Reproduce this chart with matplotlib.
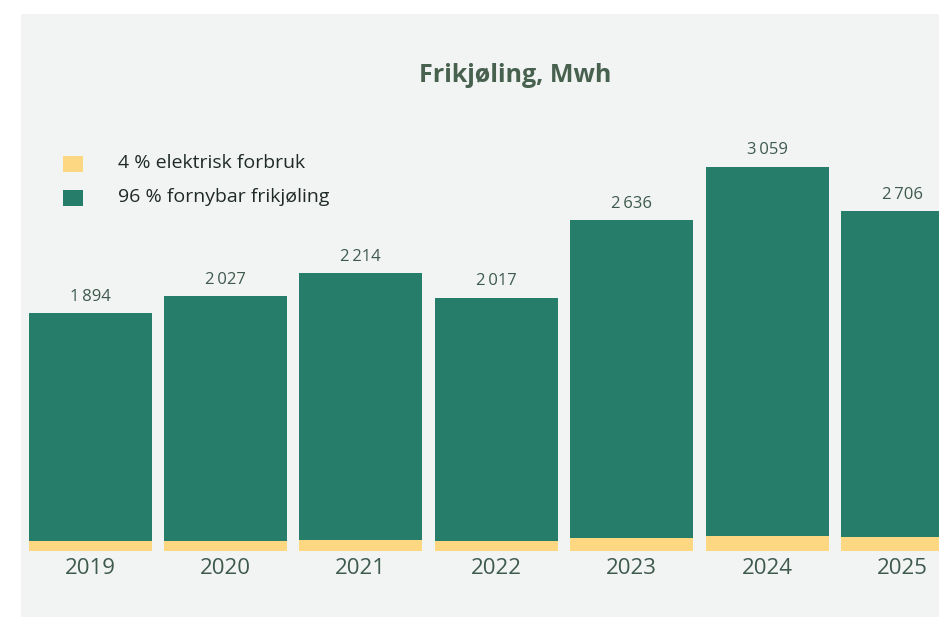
import matplotlib
matplotlib.use("Agg")
import matplotlib.pyplot as plt
from matplotlib.patches import Rectangle

# Data
years = ["2019", "2020", "2021", "2022", "2023", "2024", "2025"]
totals = [1894, 2027, 2214, 2017, 2636, 3059, 2706]
electric_share = 0.04
legend_labels = ["4 % elektrisk forbruk", "96 % fornybar frikjøling"]
title = "Frikjøling, Mwh"

GREEN = "#257d6a"
YELLOW = "#fdd781"
PANEL = "#f2f4f3"
TEXT = "#3e5a4d"

plt.rcParams["font.family"] = ["Open Sans", "DejaVu Sans"]

W, H = 939, 617
fig = plt.figure(figsize=(W / 100, H / 100), dpi=100, facecolor="white")

def fx(px):
    return px / W

def fy(py):
    return 1 - py / H

# Light panel behind the chart
fig.patches.append(Rectangle((fx(21), 0), 1 - fx(21), fy(14), transform=fig.transFigure,
                             facecolor=PANEL, edgecolor="none", zorder=-10))

# Axes geometry: bar pitch 135.4 px, first bar centre at x=90, baseline at y=551
pitch = 135.4
x0 = 90
left_px, right_px = 21, 939
base_px = 551
ymax = 3600
px_per_unit = 0.1256
top_px = base_px - ymax * px_per_unit

ax = fig.add_axes([fx(left_px), fy(base_px), fx(right_px - left_px), (base_px - top_px) / H])
ax.set_zorder(1)
ax.set_facecolor("none")
ax.set_xlim(-(x0 - left_px) / pitch, (right_px - x0) / pitch)
ax.set_ylim(0, ymax)

xs = list(range(len(years)))
electric = [t * electric_share for t in totals]
renewable = [t - e for t, e in zip(totals, electric)]
width = 123 / pitch

ax.bar(xs, electric, width=width, color=YELLOW, linewidth=0)
ax.bar(xs, renewable, bottom=electric, width=width, color=GREEN, linewidth=0)

for x, t in zip(xs, totals):
    label = f"{t:,}".replace(",", "\u2009")
    ax.annotate(label, (x, t), xytext=(0, 6), textcoords="offset points",
                ha="center", va="bottom", fontsize=12, color=TEXT)

ax.set_xticks(xs)
ax.set_xticklabels(years, fontsize=16, color=TEXT)
ax.tick_params(axis="x", length=0, pad=5)
ax.set_yticks([])
for s in ax.spines.values():
    s.set_visible(False)

# Title
fig.text(fx(515), fy(75), title, ha="center", va="center", fontsize=18,
         fontweight="bold", color="#48614f")

# Legend
for i, (lab, col) in enumerate(zip(legend_labels, [YELLOW, GREEN])):
    ytop = 156 + i * 34
    fig.patches.append(Rectangle((fx(63), fy(ytop + 16)), fx(20), 16 / H,
                                 transform=fig.transFigure, facecolor=col,
                                 edgecolor="none"))
    fig.text(fx(118), fy(ytop + 7), lab, ha="left", va="center", fontsize=14,
             color="#1f2a26")

fig.savefig("out.png", dpi=100, facecolor="white")
